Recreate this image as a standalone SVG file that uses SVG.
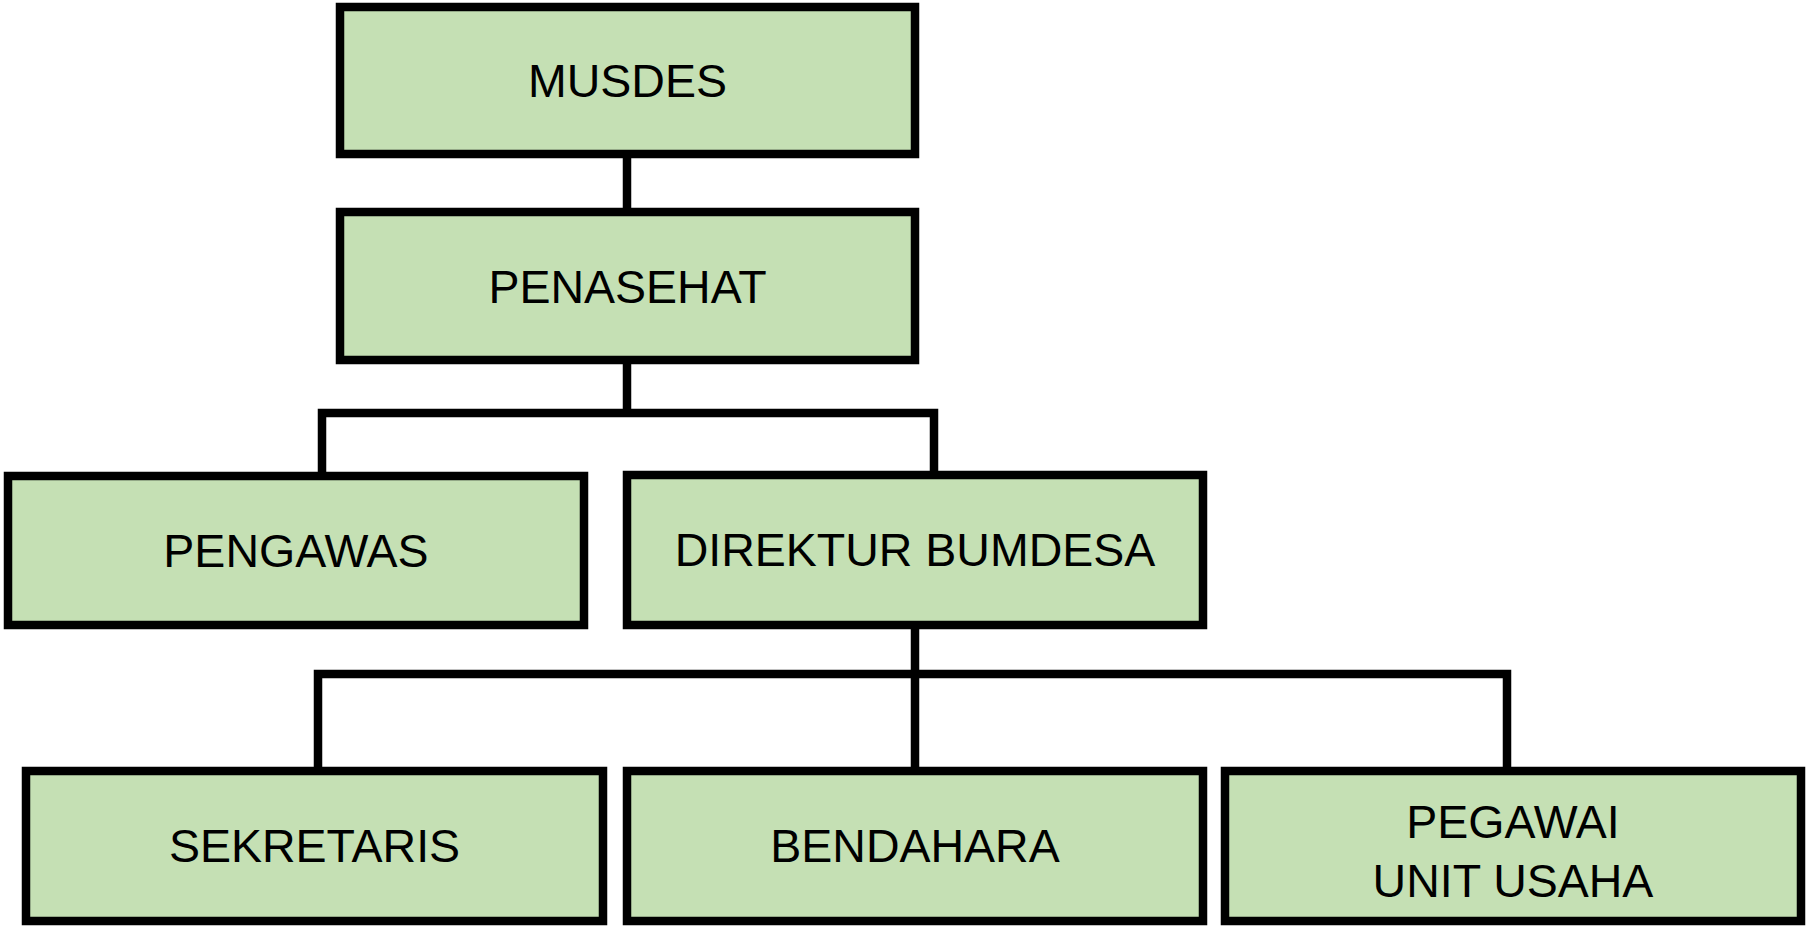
<svg xmlns="http://www.w3.org/2000/svg" width="1808" height="932" viewBox="0 0 1808 932">
<style>
.box{fill:#C5E0B4;stroke:#000;stroke-width:8.5}
.lbl{font-family:"Liberation Sans",Arial,sans-serif;font-size:46.5px;fill:#000;text-anchor:middle}
.conn{fill:none;stroke:#000;stroke-width:8.5;stroke-linejoin:miter;stroke-linecap:butt}
</style>
<rect width="1808" height="932" fill="#fff"/>
<g id="connectors">
<path class="conn" d="M627 156 V210"/>
<path class="conn" d="M627 362 V413"/>
<path class="conn" d="M322 474 V413 H934 V474"/>
<path class="conn" d="M915 627 V674"/>
<path class="conn" d="M318 769 V674 H1507 V769"/>
<path class="conn" d="M915 674 V769"/>
</g>
<g id="musdes">
<rect class="box" x="340" y="7" width="575" height="147"/>
<text class="lbl" x="627.5" y="97">MUSDES</text>
</g>
<g id="penasehat">
<rect class="box" x="340" y="212" width="575" height="148"/>
<text class="lbl" x="627.5" y="303">PENASEHAT</text>
</g>
<g id="pengawas">
<rect class="box" x="8" y="476" width="576" height="149"/>
<text class="lbl" x="296" y="567">PENGAWAS</text>
</g>
<g id="direktur">
<rect class="box" x="627" y="475" width="576" height="150"/>
<text class="lbl" x="915" y="566">DIREKTUR BUMDESA</text>
</g>
<g id="sekretaris">
<rect class="box" x="26" y="771" width="577" height="150"/>
<text class="lbl" x="314.5" y="862">SEKRETARIS</text>
</g>
<g id="bendahara">
<rect class="box" x="627" y="771" width="576" height="150"/>
<text class="lbl" x="915" y="862">BENDAHARA</text>
</g>
<g id="pegawai">
<rect class="box" x="1225" y="771" width="576" height="150"/>
<text class="lbl" x="1513" y="838">PEGAWAI</text>
<text class="lbl" x="1513" y="897">UNIT USAHA</text>
</g>
</svg>
